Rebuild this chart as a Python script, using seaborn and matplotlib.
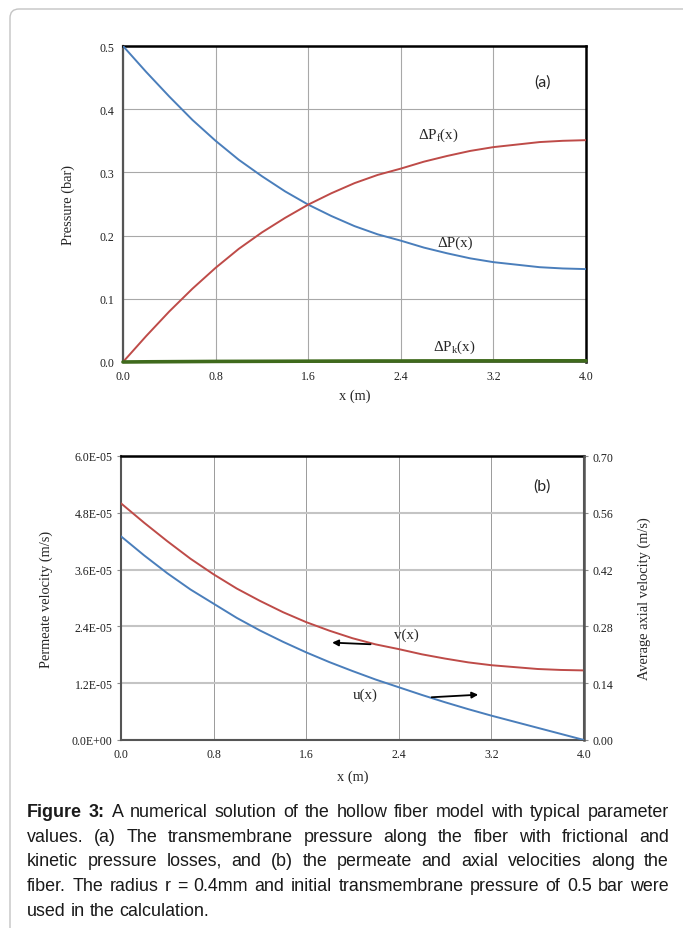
import numpy as np
import pandas as pd
import matplotlib
matplotlib.use("Agg")
import matplotlib.pyplot as plt
import seaborn as sns
from matplotlib.patches import FancyBboxPatch
from matplotlib.transforms import IdentityTransform
from matplotlib.ticker import FuncFormatter

# ---------------- data ----------------
x_m = [0.0, 0.2, 0.4, 0.6, 0.8, 1.0, 1.2, 1.4, 1.6, 1.8, 2.0,
       2.2, 2.4, 2.6, 2.8, 3.0, 3.2, 3.4, 3.6, 3.8, 4.0]
dP = [0.500, 0.459, 0.420, 0.383, 0.350, 0.320, 0.294, 0.270, 0.249, 0.231, 0.215,
      0.202, 0.192, 0.181, 0.172, 0.164, 0.158, 0.154, 0.150, 0.148, 0.147]
dPf = [0.000, 0.041, 0.080, 0.116, 0.149, 0.179, 0.205, 0.228, 0.249, 0.267, 0.283,
       0.296, 0.306, 0.317, 0.326, 0.334, 0.340, 0.344, 0.348, 0.350, 0.351]
dPk = [0.000, 0.0003, 0.0005, 0.0007, 0.0009, 0.0010, 0.0011, 0.0012, 0.0013, 0.0014, 0.0015,
       0.0016, 0.0016, 0.0017, 0.0017, 0.0018, 0.0018, 0.0018, 0.0019, 0.0019, 0.0019]
v_perm = [5.00e-5, 4.59e-5, 4.20e-5, 3.83e-5, 3.50e-5, 3.20e-5, 2.94e-5, 2.70e-5, 2.49e-5, 2.31e-5, 2.15e-5,
          2.02e-5, 1.92e-5, 1.81e-5, 1.72e-5, 1.64e-5, 1.58e-5, 1.54e-5, 1.50e-5, 1.48e-5, 1.47e-5]
u_axial = [0.502, 0.455, 0.411, 0.371, 0.336, 0.301, 0.270, 0.242, 0.216, 0.192, 0.170,
           0.149, 0.130, 0.111, 0.093, 0.076, 0.060, 0.045, 0.030, 0.015, 0.000]

x_ticks = [0.0, 0.8, 1.6, 2.4, 3.2, 4.0]
p_ticks = [0.0, 0.1, 0.2, 0.3, 0.4, 0.5]
v_ticks = [0.0, 1.2e-5, 2.4e-5, 3.6e-5, 4.8e-5, 6.0e-5]
u_ticks = [0.00, 0.14, 0.28, 0.42, 0.56, 0.70]

caption_lines = [
    "Figure 3: A numerical solution of the hollow fiber model with typical parameter",
    "values. (a) The transmembrane pressure along the fiber with frictional and",
    "kinetic pressure losses, and (b) the permeate and axial velocities along the",
    "fiber. The radius r = 0.4mm and initial transmembrane pressure of 0.5 bar were",
    "used in the calculation.",
]

df_a = pd.DataFrame({"x": x_m, "dP": dP, "dPf": dPf, "dPk": dPk})
df_b = pd.DataFrame({"x": x_m, "v": v_perm, "u": u_axial})

# ---------------- style ----------------
sns.set_style("white")
plt.rcParams["font.family"] = ["Liberation Serif", "DejaVu Serif"]
plt.rcParams["mathtext.fontset"] = "custom"
plt.rcParams["mathtext.rm"] = "Liberation Serif"
plt.rcParams["mathtext.it"] = "Liberation Serif:italic"

BLUE = "#4a7ebb"
RED = "#be4b48"
GREEN = "#3f6a1c"
TICKC = "#222222"
TICK_FS = 8.6
LAB_FS = 10.4
ANN_FS = 10.8

W, H = 683, 929
fig = plt.figure(figsize=(W / 100, H / 100), dpi=100)
fig.patch.set_facecolor("white")

# outer rounded frame
frame = FancyBboxPatch((10, -30), 720, H - 10 + 30, boxstyle="round,pad=0,rounding_size=9",
                       transform=IdentityTransform(), fill=False, edgecolor="#c4c4c4", lw=1.0)
fig.add_artist(frame)


def px_axes(left, top, right, bottom):
    return fig.add_axes([left / W, (H - bottom) / H, (right - left) / W, (bottom - top) / H])


def style_common(ax):
    ax.tick_params(axis="both", which="major", direction="out", length=3, width=0.8,
                   color="#8c8c8c", labelsize=TICK_FS, labelcolor=TICKC, pad=3)
    for lab in ax.get_xticklabels() + ax.get_yticklabels():
        lab.set_family("Liberation Serif")


# ---------------- panel (a) ----------------
ax = px_axes(123, 47, 586, 363)
sns.lineplot(data=df_a, x="x", y="dP", ax=ax, color=BLUE, lw=1.4, zorder=3)
sns.lineplot(data=df_a, x="x", y="dPf", ax=ax, color=RED, lw=1.4, zorder=3)
sns.lineplot(data=df_a, x="x", y="dPk", ax=ax, color=GREEN, lw=2.6, zorder=4, clip_on=False)
ax.set_xlim(0, 4.0)
ax.set_ylim(0, 0.5)
ax.set_xticks(x_ticks)
ax.set_yticks(p_ticks)
ax.xaxis.set_major_formatter(FuncFormatter(lambda v, p: f"{v:.1f}"))
ax.yaxis.set_major_formatter(FuncFormatter(lambda v, p: f"{v:.1f}"))
ax.grid(True, color="#a8a8a8", lw=0.8)
ax.set_axisbelow(True)
for s in ["top", "right"]:
    ax.spines[s].set_color("black")
    ax.spines[s].set_linewidth(1.8)
ax.spines["left"].set_color("#555555")
ax.spines["left"].set_linewidth(1.6)
ax.spines["bottom"].set_color("#555555")
ax.spines["bottom"].set_linewidth(1.2)
style_common(ax)
ax.set_xlabel("x (m)", fontsize=LAB_FS, family="Liberation Serif")
ax.set_ylabel("Pressure (bar)", fontsize=LAB_FS, family="Liberation Serif")
ax.xaxis.set_label_coords(0.5, -0.085)
ax.yaxis.set_label_coords(-0.103, 0.5)

ax.text(2.55, 0.36, r"ΔP$_{\mathrm{f}}$(x)", fontsize=ANN_FS, va="center", ha="left")
ax.text(2.72, 0.19, "ΔP(x)", fontsize=ANN_FS, va="center", ha="left")
ax.text(2.68, 0.025, r"ΔP$_{\mathrm{k}}$(x)", fontsize=ANN_FS, va="center", ha="left")
ax.text(3.62, 0.443, "(a)", fontsize=11.5, va="center", ha="center", family="Lato")

# ---------------- panel (b) ----------------
axb = px_axes(121, 457, 584, 741)
sns.lineplot(data=df_b, x="x", y="v", ax=axb, color=RED, lw=1.4, zorder=3)
axb.set_xlim(0, 4.0)
axb.set_ylim(0, 6.0e-5)
axb.set_xticks(x_ticks)
axb.set_yticks(v_ticks)
axb.xaxis.set_major_formatter(FuncFormatter(lambda v, p: f"{v:.1f}"))
axb.yaxis.set_major_formatter(FuncFormatter(lambda v, p: f"{v:.1E}"))
axb.yaxis.grid(True, color="#c4c4c4", lw=1.5)
axb.xaxis.grid(True, color="#9a9a9a", lw=0.7)
axb.set_axisbelow(True)
axb.spines["top"].set_color("black")
axb.spines["top"].set_linewidth(1.8)
for s in ["left", "bottom", "right"]:
    axb.spines[s].set_color("#555555")
    axb.spines[s].set_linewidth(1.5)
style_common(axb)
axb.set_xlabel("x (m)", fontsize=LAB_FS, family="Liberation Serif")
axb.set_ylabel("Permeate velocity (m/s)", fontsize=LAB_FS, family="Liberation Serif")
axb.xaxis.set_label_coords(0.5, -0.105)
axb.yaxis.set_label_coords(-0.146, 0.5)

ax2 = axb.twinx()
sns.lineplot(data=df_b, x="x", y="u", ax=ax2, color=BLUE, lw=1.4, zorder=3)
ax2.set_ylim(0, 0.70)
ax2.set_yticks(u_ticks)
ax2.yaxis.set_major_formatter(FuncFormatter(lambda v, p: f"{v:.2f}"))
for s in ["left", "bottom", "top"]:
    ax2.spines[s].set_visible(False)
ax2.spines["right"].set_color("#555555")
ax2.spines["right"].set_linewidth(1.8)
style_common(ax2)
ax2.set_ylabel("Average axial velocity (m/s)", fontsize=LAB_FS, family="Liberation Serif")
ax2.yaxis.set_label_coords(1.115, 0.5)
ax2.grid(False)

axb.text(2.36, 2.24e-5, "v(x)", fontsize=ANN_FS, va="center", ha="left")
axb.annotate("", xy=(1.80, 2.06e-5), xytext=(2.18, 2.02e-5),
             arrowprops=dict(arrowstyle="-|>", color="black", lw=1.3, mutation_scale=9))
ax2.text(2.0, 0.112, "u(x)", fontsize=ANN_FS, va="center", ha="left")
ax2.annotate("", xy=(3.11, 0.112), xytext=(2.66, 0.105),
             arrowprops=dict(arrowstyle="-|>", color="black", lw=1.3, mutation_scale=9))
ax2.text(3.64, 0.627, "(b)", fontsize=11.5, va="center", ha="center", family="Lato")

# ---------------- caption (justified) ----------------
renderer = fig.canvas.get_renderer()
CAP_FS = 12.9
CAP_FAM = "Liberation Sans"
x_left, x_right = 27, 669
baselines = [817, 842, 866, 891, 916]


def measure(word, weight):
    t = fig.text(0, 0, word, fontsize=CAP_FS, family=CAP_FAM, weight=weight)
    w = t.get_window_extent(renderer).width
    t.remove()
    return w


for i, line in enumerate(caption_lines):
    words = line.split(" ")
    weights = ["bold" if (i == 0 and j < 2) else "normal" for j in range(len(words))]
    widths = [measure(w, wt) for w, wt in zip(words, weights)]
    if i < len(caption_lines) - 1:
        gap = (x_right - x_left - sum(widths)) / (len(words) - 1)
    else:
        gap = measure("a b", "normal") - measure("a", "normal") - measure("b", "normal")
    xpos = x_left
    for w, wt, wd in zip(words, weights, widths):
        fig.text(xpos / W, (H - baselines[i]) / H, w, fontsize=CAP_FS, family=CAP_FAM,
                 weight=wt, va="baseline", ha="left", color="#1a1a1a")
        xpos += wd + gap

fig.savefig("out.png", dpi=100)
